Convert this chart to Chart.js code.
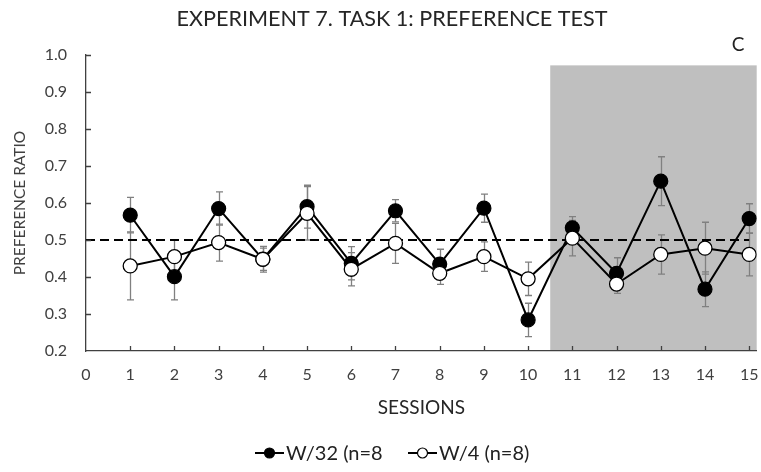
<!DOCTYPE html>
<html><head><meta charset="utf-8">
<script src="https://cdn.jsdelivr.net/npm/chart.js@4/dist/chart.umd.min.js"></script>
<style>html,body{margin:0;padding:0;background:#fff}canvas{display:block}</style>
</head><body>
<canvas id="c" width="761" height="472"></canvas>
<script>
const sessions = [1,2,3,4,5,6,7,8,9,10,11,12,13,14,15];
const w32 = [0.567,0.401,0.585,0.448,0.590,0.437,0.579,0.435,0.586,0.284,0.533,0.410,0.659,0.367,0.558];
const w32Err = [0.048,0.063,0.045,0.030,0.058,0.045,0.030,0.040,0.038,0.045,0.030,0.042,0.066,0.047,0.040];
const w4 = [0.430,0.455,0.493,0.448,0.572,0.421,0.491,0.410,0.455,0.395,0.505,0.381,0.461,0.478,0.461];
const w4Err = [0.092,0.045,0.050,0.035,0.072,0.045,0.054,0.030,0.040,0.045,0.048,0.025,0.053,0.070,0.058];
const chanceX = [0, 15];
const chanceY = [0.5, 0.5];
const shadeX = [10.5, 15.17];
const shadeTopY = 0.972;
const labels = ['W/32 (n=8', 'W/4 (n=8)'];
const titleText = 'EXPERIMENT 7. TASK 1: PREFERENCE TEST';
const panelLetter = 'C';

const FONT = 'Lato';
const TXT = '#404040';

const pts = (xs, ys) => xs.map((v, i) => ({x: v, y: ys[i]}));

const decor = {
  id: 'decor',
  beforeDraw(chart) {
    const {ctx, scales: {x, y}} = chart;
    ctx.save();
    ctx.fillStyle = '#bfbfbf';
    const x0 = x.getPixelForValue(shadeX[0]), x1 = x.getPixelForValue(shadeX[1]);
    const y0 = y.getPixelForValue(shadeTopY), y1 = y.getPixelForValue(y.min);
    ctx.fillRect(x0, y0, x1 - x0, y1 - y0);
    ctx.restore();
  },
  beforeDatasetsDraw(chart) {
    const {ctx, scales: {x, y}} = chart;
    ctx.save();
    ctx.strokeStyle = '#808080';
    ctx.lineWidth = 1.3;
    const series = [[w32, w32Err], [w4, w4Err]];
    series.forEach(([vals, errs]) => {
      vals.forEach((v, i) => {
        const px = Math.round(x.getPixelForValue(sessions[i])) + 0.5;
        const yt = y.getPixelForValue(v + errs[i]);
        const yb = y.getPixelForValue(v - errs[i]);
        ctx.beginPath();
        ctx.moveTo(px, yt); ctx.lineTo(px, yb);
        ctx.moveTo(px - 3.5, yt); ctx.lineTo(px + 3.5, yt);
        ctx.moveTo(px - 3.5, yb); ctx.lineTo(px + 3.5, yb);
        ctx.stroke();
      });
    });
    ctx.restore();
  },
  afterDraw(chart) {
    const {ctx, scales: {x, y}} = chart;
    ctx.save();
    ctx.strokeStyle = '#404040';
    ctx.lineWidth = 1.3;
    const base = y.getPixelForValue(y.min);
    const left = x.getPixelForValue(x.min);
    ctx.beginPath();
    x.ticks.forEach(t => {
      if (t.value <= x.min) return;
      const px = Math.round(x.getPixelForValue(t.value)) + 0.5;
      ctx.moveTo(px, base); ctx.lineTo(px, base - 5);
    });
    y.ticks.forEach(t => {
      if (t.value <= y.min + 1e-9) return;
      const py = Math.round(y.getPixelForValue(t.value)) + 0.5;
      ctx.moveTo(left, py); ctx.lineTo(left + 5, py);
    });
    ctx.stroke();

    // title
    ctx.fillStyle = '#262626';
    ctx.font = '21.6px ' + FONT;
    ctx.textAlign = 'center';
    ctx.textBaseline = 'middle';
    ctx.fillText(titleText, 392, 19);

    // panel letter
    ctx.fillStyle = '#222';
    ctx.font = '19px ' + FONT;
    ctx.fillText(panelLetter, 738, 45);

    // legend
    const items = [
      {label: labels[0], fill: '#000', lx: 255},
      {label: labels[1], fill: '#fff', lx: 408}
    ];
    const ly = 453;
    ctx.font = '20px ' + FONT;
    ctx.textAlign = 'left';
    items.forEach(it => {
      ctx.strokeStyle = '#000';
      ctx.lineWidth = 2;
      ctx.beginPath();
      ctx.moveTo(it.lx, ly); ctx.lineTo(it.lx + 29, ly);
      ctx.stroke();
      ctx.beginPath();
      ctx.arc(it.lx + 14.5, ly, 5, 0, Math.PI * 2);
      ctx.fillStyle = it.fill;
      ctx.fill();
      ctx.lineWidth = 1.2;
      ctx.stroke();
      ctx.fillStyle = '#222';
      ctx.fillText(it.label, it.lx + 31, ly + 1);
    });
    ctx.restore();
  }
};

new Chart(document.getElementById('c'), {
  type: 'scatter',
  data: {
    datasets: [
      {
        label: labels[0],
        data: pts(sessions, w32),
        showLine: true,
        borderColor: '#000',
        borderWidth: 2,
        pointRadius: 7,
        pointBackgroundColor: '#000',
        pointBorderColor: '#000',
        pointBorderWidth: 1.2,
        order: 1
      },
      {
        label: labels[1],
        data: pts(sessions, w4),
        showLine: true,
        borderColor: '#000',
        borderWidth: 2,
        pointRadius: 7,
        pointBackgroundColor: '#fff',
        pointBorderColor: '#000',
        pointBorderWidth: 1.3,
        order: 0
      },
      {
        label: 'chance',
        data: pts(chanceX, chanceY),
        showLine: true,
        borderColor: '#000',
        borderWidth: 2,
        borderDash: [9, 5],
        pointRadius: 0,
        order: 2
      }
    ]
  },
  options: {
    responsive: false,
    animation: false,
    devicePixelRatio: 1,
    layout: {autoPadding: false, padding: {left: 0, right: 4.3, top: 55, bottom: 0}},
    plugins: {
      legend: {display: false},
      tooltip: {enabled: false},
      title: {display: false}
    },
    scales: {
      x: {
        type: 'linear',
        min: 0,
        max: shadeX[1],
        afterFit: s => { s.height = 121; s.paddingLeft = 0; s.paddingRight = 0; },
        grid: {display: false, drawTicks: false},
        border: {display: true, color: '#404040', width: 1.3},
        ticks: {
          stepSize: 1, includeBounds: false, autoSkip: false, maxRotation: 0,
          padding: 14, color: TXT, font: {family: FONT, size: 16},
          callback: v => Number.isInteger(v) ? String(v) : ''
        },
        title: {
          display: true, text: 'SESSIONS', color: '#262626',
          font: {family: FONT, size: 19},
          padding: {top: 0, bottom: 52.6}
        }
      },
      y: {
        type: 'linear',
        min: 0.2,
        max: 1.0,
        afterFit: s => { s.width = 86; s.paddingTop = 0; s.paddingBottom = 0; },
        grid: {display: false, drawTicks: false},
        border: {display: true, color: '#404040', width: 1.3},
        ticks: {
          stepSize: 0.1, padding: 19, color: TXT, font: {family: FONT, size: 16},
          callback: v => v.toFixed(1)
        },
        title: {
          display: true, text: 'PREFERENCE RATIO', color: TXT,
          font: {family: FONT, size: 15.5},
          padding: {top: 11, bottom: 0}
        }
      }
    }
  },
  plugins: [decor]
});
</script>
</body></html>
